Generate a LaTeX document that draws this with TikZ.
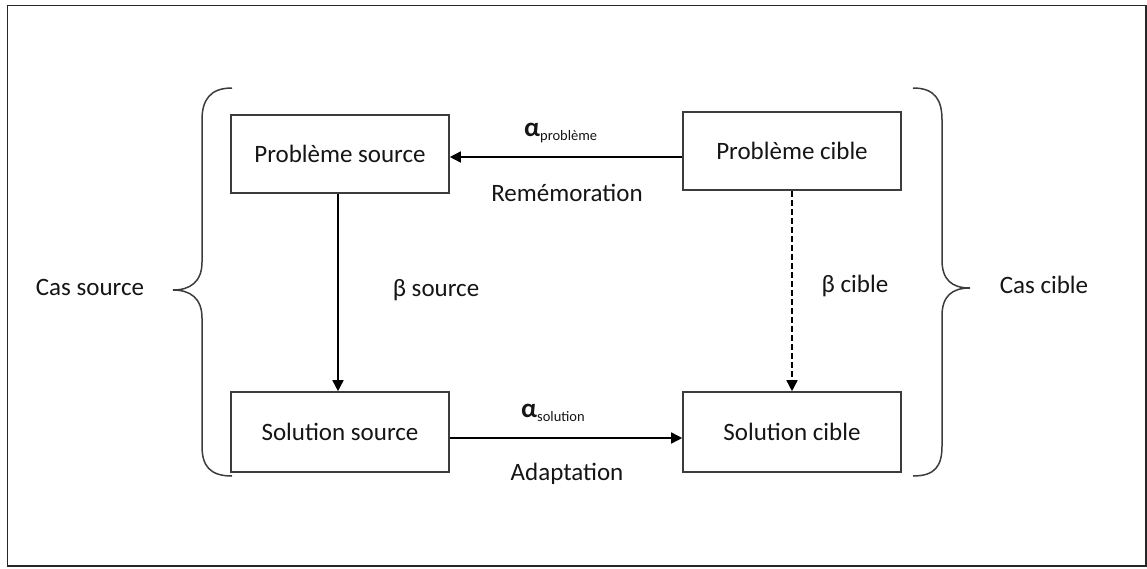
\documentclass[tikz,border=0pt]{standalone}
\usepackage{fontspec}
\setmainfont{Carlito}
\usetikzlibrary{arrows.meta}
\definecolor{ink}{HTML}{151515}
\definecolor{boxline}{HTML}{3C3C3C}
\begin{document}
\begin{tikzpicture}[x=1pt,y=-1pt,
  font=\fontsize{25}{29}\selectfont, text=ink,
  casebox/.style={draw=boxline, line width=1.6pt, rectangle, inner sep=0pt, align=center,
    minimum width=218pt},
  link/.style={draw=black, line width=1.6pt, -{Triangle[length=11pt,width=11pt]}},
  brace/.style={draw=boxline, line width=1.5pt},
  lbl/.style={inner sep=0pt, anchor=center}]
  \useasboundingbox (0,0) rectangle (1147,568);
  % outer frame
  \draw[line width=1.5pt, draw=black!85] (7.5,5.5) rectangle (1146,566);

  % the four cases
  \node[casebox, minimum height=78pt] (ps) at (340,154) {Problème source};
  \node[casebox, minimum height=78pt] (pc) at (792,151) {Problème cible};
  \node[casebox, minimum height=80pt] (ss) at (340,432) {Solution source};
  \node[casebox, minimum height=80pt] (sc) at (792,432) {Solution cible};

  % connectors
  \draw[link] (pc.west |- 0,157) -- (ps.east |- 0,157);
  \draw[link] (ss.east |- 0,438) -- (sc.west |- 0,438);
  \draw[link] (ps.south -| 338,0) -- (ss.north -| 338,0);
  \draw[link, dashed, dash pattern=on 6pt off 3pt] (pc.south) -- (sc.north);

  % connector labels
  \node[lbl, anchor=base west] (ap) at (524,136) {\textbf{\fontsize{27}{29}\selectfont α}\raisebox{-4pt}{\fontsize{14.5}{16}\selectfont problème}};
  \node[lbl] (rem) at (567,193) {Remémoration};
  \node[lbl, anchor=base west] (as) at (521,417) {\textbf{\fontsize{27}{29}\selectfont α}\raisebox{-4pt}{\fontsize{14.5}{16}\selectfont solution}};
  \node[lbl] (ad) at (567,474) {Adaptation};
  \node[lbl] (bs) at (436,290) {β source};
  \node[lbl] (bc) at (855,286) {β cible};

  % case braces and their labels
  \draw[brace] (232,88) .. controls (210,88) and (202,100) .. (202,120)
    -- (202,262) .. controls (202,282) and (190,290) .. (173,290)
    .. controls (190,290) and (202,298) .. (202,318)
    -- (202,446) .. controls (202,466) and (210,476) .. (232,476);
  \draw[brace] (913,88) .. controls (935,88) and (942,100) .. (942,120)
    -- (942,260) .. controls (942,280) and (952,288) .. (970,288)
    .. controls (952,288) and (942,296) .. (942,316)
    -- (942,446) .. controls (942,466) and (935,476) .. (913,476);
  \node[lbl] (cs) at (90,287) {Cas source};
  \node[lbl] (cc) at (1044,285) {Cas cible};
\end{tikzpicture}
\end{document}
